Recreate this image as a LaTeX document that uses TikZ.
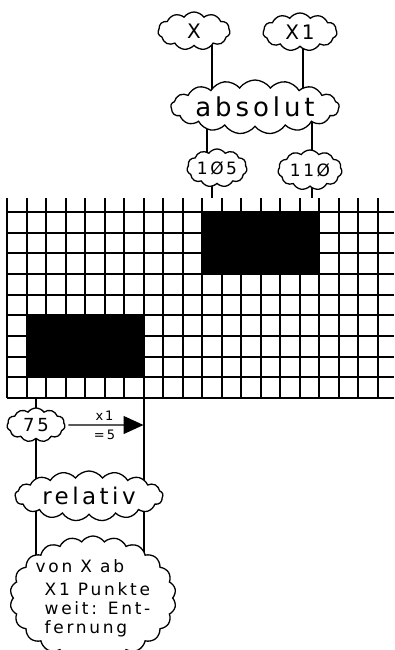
\documentclass[tikz,border=0pt]{standalone}
\usepackage{fontspec}
\setmainfont{DejaVu Sans}
\newfontfamily\handschrift[LetterSpace=15]{DejaVu Sans}
\newfontfamily\handweit[LetterSpace=16]{DejaVu Sans}
\usetikzlibrary{arrows.meta,shapes.symbols,backgrounds}

\begin{document}
\begin{tikzpicture}[x=1pt,y=-1pt,
  wolke/.style={cloud,draw,fill=white,line width=1.3pt,cloud puffs=#1,
    cloud puff arc=110,cloud ignores aspect,inner sep=0pt},
  wolke/.default=11,
  gitter/.style={line width=2pt},
  verb/.style={line width=1.3pt},
  hand/.style={font=\handschrift\fontsize{#1}{#1}\selectfont}]
  \useasboundingbox (0,0) rectangle (394,650);
  % Raster mit den zwei schwarzen Feldern
  \foreach \i in {0,...,19}
    \draw[gitter] ({7+19.5*\i},198) -- ({7+19.5*\i},398);
  \foreach \j in {0,...,9}
    \draw[gitter] (7,{212+20.67*\j}) -- (394,{212+20.67*\j});
  \fill ({7+19.5*10},212) rectangle ({7+19.5*16},{212+20.67*3});
  \fill ({7+19.5*1},{212+20.67*5}) rectangle ({7+19.5*7},{212+20.67*8});
  \coordinate (rasteroben) at (7,198);
  \coordinate (rasterunten) at (143.5,398);
  % Wolken
  \node[wolke,minimum width=72pt,minimum height=38pt,hand=20] (wx) at (194,31) {X};
  \node[wolke,minimum width=74pt,minimum height=38pt,hand=20] (wxeins) at (300,32) {X1};
  \node[wolke=17,minimum width=156pt,minimum height=54pt,hand=26] (absolut) at (255,107) {absolut};
  \node[wolke,minimum width=60pt,minimum height=38pt,hand=17] (w105) at (217,168) {1Ø5};
  \node[wolke,minimum width=64pt,minimum height=40pt,hand=17] (w110) at (310,170) {11Ø};
  \node[wolke,minimum width=58pt,minimum height=34pt,hand=18] (w75) at (36,425) {75};
  \node[wolke=17,minimum width=148pt,minimum height=50pt,hand=23] (relativ) at (89,496) {relativ};
  \node[wolke=22,minimum width=166pt,minimum height=124pt,inner xsep=-14pt,inner ysep=-12pt,
    align=left,font=\handweit\fontsize{17}{19}\selectfont] (erkl) at (93,598)
    {von X ab\\[4pt]\hspace*{9pt}X1 Punkte\\\hspace*{9pt}weit: Ent-\\\hspace*{9pt}fernung};
  % Verbindungen
  \coordinate (la) at (212,0);
  \coordinate (lb) at (303,0);
  \coordinate (lc) at (207,0);
  \coordinate (ld) at (312,0);
  \begin{scope}[on background layer]
    \draw[verb] (wx -| la) -- (absolut -| la);
    \draw[verb] (wxeins -| lb) -- (absolut -| lb);
    \draw[verb] (absolut -| lc) -- (w105 -| lc);
    \draw[verb] (absolut -| ld) -- (w110 -| ld);
    \draw[verb] (w105 -| la) -- (rasteroben -| la);
    \draw[verb] (w110 -| ld) -- (rasteroben -| ld);
    \draw[verb] (rasterunten -| w75) -- (w75 |- erkl);
    \draw[gitter] (rasterunten) -- (rasterunten |- erkl);
  \end{scope}
  \draw[verb,-{Triangle[length=20pt,width=18pt]},shorten <=3pt] (w75) -- (w75 -| rasterunten)
    node[midway,above=1pt,hand=13] (pxeins) {x1}
    node[midway,below=1pt,hand=13] (pfuenf) {=5};
\end{tikzpicture}
\end{document}
